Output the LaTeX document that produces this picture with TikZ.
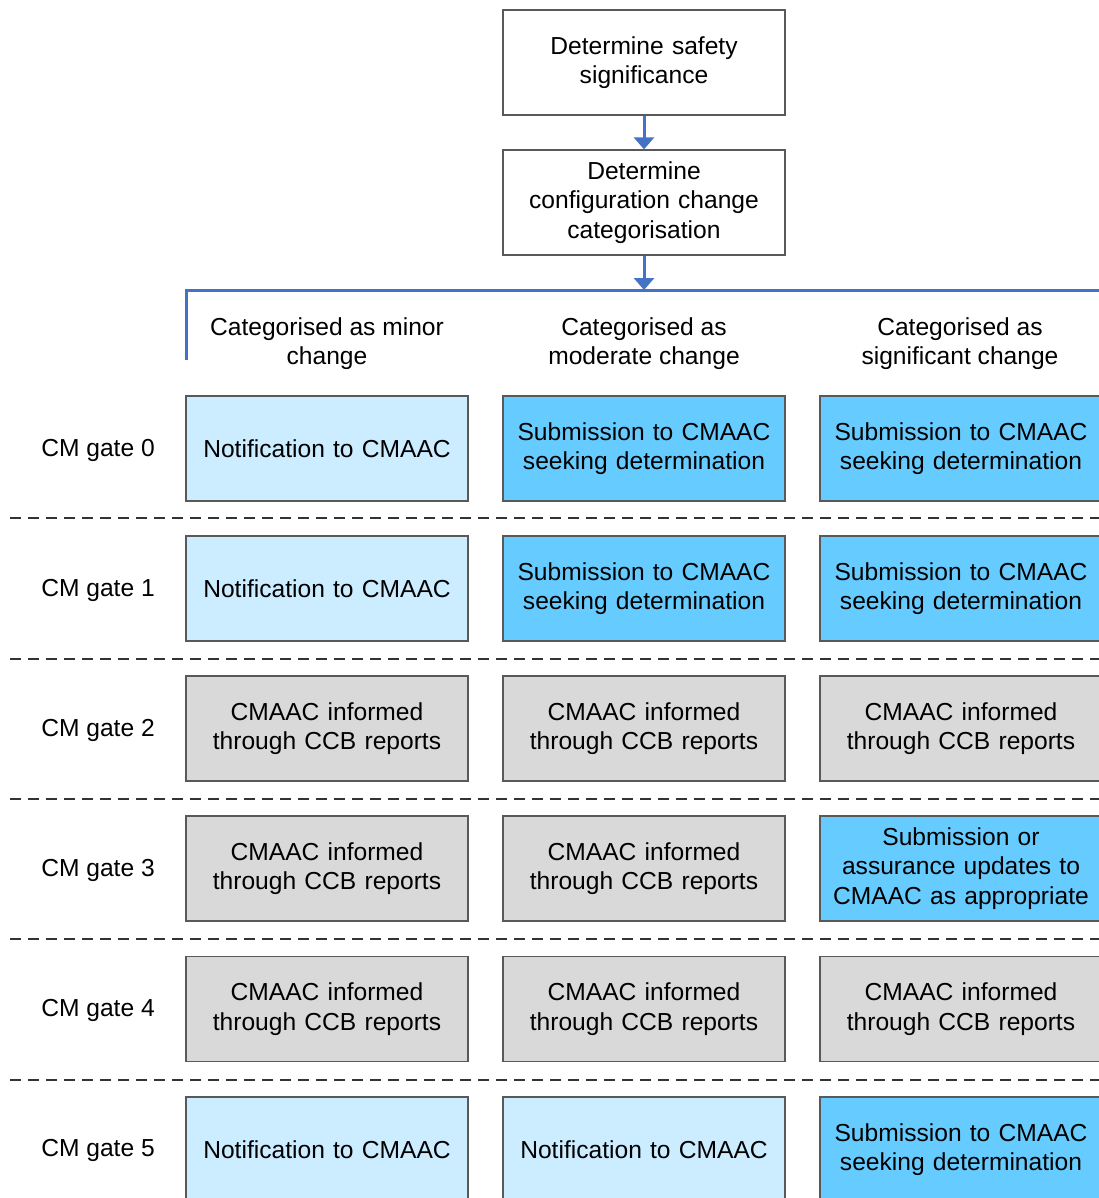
\documentclass[tikz,border=0pt]{standalone}
\usepackage{fontspec}
\setmainfont{Liberation Sans}
\usetikzlibrary{arrows.meta}
\definecolor{lightfill}{HTML}{CCECFF}
\definecolor{strongfill}{HTML}{66CCFF}
\definecolor{greyfill}{HTML}{D9D9D9}
\definecolor{edgegrey}{HTML}{595959}
\definecolor{flowblue}{HTML}{4472C4}
\tikzset{
  cell/.style={draw=edgegrey, line width=1.3pt, minimum width=282pt, minimum height=105pt,
    align=center, inner sep=0pt, font=\fontsize{24.6}{29.5}\selectfont, text width=270pt},
  topbox/.style={cell, fill=white},
  notify/.style={cell, fill=lightfill},
  submit/.style={cell, fill=strongfill},
  ccb/.style={cell, fill=greyfill},
  lbl/.style={align=center, inner sep=0pt, font=\fontsize{24.6}{29.5}\selectfont},
  flow/.style={draw=flowblue, line width=3pt},
  flowarrow/.style={flow, -{Triangle[width=20pt,length=12pt]}},
  gateline/.style={dashed, dash pattern=on 11pt off 7pt, line width=1.4pt, draw=black!80}
}
\begin{document}
\begin{tikzpicture}[x=1pt,y=-1pt]
\useasboundingbox (0,0) rectangle (1099,1198);
\clip (0,0) rectangle (1099,1198);
\fill[white] (0,0) rectangle (1099,1198);

% top decision boxes
\node[topbox] (safety) at (644,62.5) {Determine safety\\significance};
\node[topbox] (categ) at (644,202.5) {Determine\\configuration change\\categorisation};
\coordinate (split) at (644,290);
\coordinate (lineL) at (186,290);
\coordinate (lineLend) at (186,360);
\coordinate (lineR) at (1110,290);
\draw[flowarrow] (safety.south) -- (categ.north);
\draw[flow] (lineLend) -- (lineL) -- (lineR);
\draw[flowarrow] (categ.south) -- (split);

% column headers
\node[lbl] (hminor) at (327,343.5) {Categorised as minor\\change};
\node[lbl] (hmod) at (644,343.5) {Categorised as\\moderate change};
\node[lbl] (hsig) at (960,343.5) {Categorised as\\significant change};

% gate separators
\foreach \yy [count=\i] in {518,659,799,939,1080} {
  \coordinate (dl\i) at (10,\yy);
  \coordinate (dr\i) at (1110,\yy);
  \draw[gateline] (dl\i) -- (dr\i);
}

% gate labels
\foreach \g/\yy in {0/450,1/590,2/730,3/870,4/1010.5,5/1150.5} {
  \node[lbl] (gate\g) at (98,\yy) {CM gate \g};
}

% gate 0
\node[notify] (a0) at (327,448.5) {Notification to CMAAC};
\node[submit] (b0) at (644,448.5) {Submission to CMAAC\\seeking determination};
\node[submit] (c0) at (961,448.5) {Submission to CMAAC\\seeking determination};
% gate 1
\node[notify] (a1) at (327,588.5) {Notification to CMAAC};
\node[submit] (b1) at (644,588.5) {Submission to CMAAC\\seeking determination};
\node[submit] (c1) at (961,588.5) {Submission to CMAAC\\seeking determination};
% gate 2
\node[ccb] (a2) at (327,728.5) {CMAAC informed\\through CCB reports};
\node[ccb] (b2) at (644,728.5) {CMAAC informed\\through CCB reports};
\node[ccb] (c2) at (961,728.5) {CMAAC informed\\through CCB reports};
% gate 3
\node[ccb] (a3) at (327,868.5) {CMAAC informed\\through CCB reports};
\node[ccb] (b3) at (644,868.5) {CMAAC informed\\through CCB reports};
\node[submit] (c3) at (961,868.5) {Submission or\\assurance updates to\\CMAAC as appropriate};
% gate 4
\node[ccb] (a4) at (327,1009) {CMAAC informed\\through CCB reports};
\node[ccb] (b4) at (644,1009) {CMAAC informed\\through CCB reports};
\node[ccb] (c4) at (961,1009) {CMAAC informed\\through CCB reports};
% gate 5
\node[notify] (a5) at (327,1149.5) {Notification to CMAAC};
\node[notify] (b5) at (644,1149.5) {Notification to CMAAC};
\node[submit] (c5) at (961,1149.5) {Submission to CMAAC\\seeking determination};
\end{tikzpicture}
\end{document}
